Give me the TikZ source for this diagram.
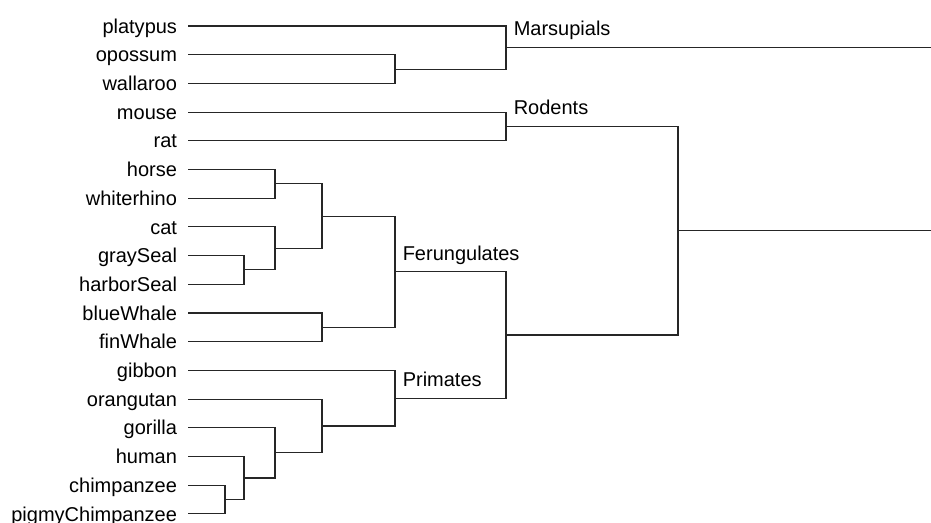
\documentclass[tikz,border=0pt]{standalone}
\usepackage{fontspec}
\setmainfont{Liberation Sans}
\usetikzlibrary{calc}
\begin{document}
\begin{tikzpicture}[x=0.75pt,y=-0.75pt,
  leaf/.style={anchor=east,inner sep=0pt,outer xsep=8.25pt,text height=10.75pt,text depth=0pt,font=\fontsize{15}{18}\selectfont},
  grp/.style={anchor=base west,inner sep=0pt,font=\fontsize{15}{18}\selectfont},
  br/.style={line width=0.8pt,line join=miter,draw=black!85}]
\useasboundingbox (0,0) rectangle (931,523);
% leaves
\def\lx{188}
\node[leaf] (platypus) at (\lx,26) {platypus};
\node[leaf] (opossum) at (\lx,54.7) {opossum};
\node[leaf] (wallaroo) at (\lx,83.4) {wallaroo};
\node[leaf] (mouse) at (\lx,112.1) {mouse};
\node[leaf] (rat) at (\lx,140.8) {rat};
\node[leaf] (horse) at (\lx,169.5) {horse};
\node[leaf] (whiterhino) at (\lx,198.2) {whiterhino};
\node[leaf] (cat) at (\lx,226.9) {cat};
\node[leaf] (graySeal) at (\lx,255.6) {graySeal};
\node[leaf] (harborSeal) at (\lx,284.3) {harborSeal};
\node[leaf] (blueWhale) at (\lx,313) {blueWhale};
\node[leaf] (finWhale) at (\lx,341.7) {finWhale};
\node[leaf] (gibbon) at (\lx,370.4) {gibbon};
\node[leaf] (orangutan) at (\lx,399.1) {orangutan};
\node[leaf] (gorilla) at (\lx,427.8) {gorilla};
\node[leaf] (human) at (\lx,456.5) {human};
\node[leaf] (chimpanzee) at (\lx,485.2) {chimpanzee};
\node[leaf] (pigmy) at (\lx,513.9) {pigmyChimpanzee};
% internal nodes
\coordinate (ow) at (395,69.05);
\coordinate (mars) at (506,47.5);
\coordinate (marsEnd) at (931,47.5);
\coordinate (rod) at (506,126.45);
\coordinate (hw) at (275,183.85);
\coordinate (ss) at (244,269.95);
\coordinate (cs) at (275,248.4);
\coordinate (hwcs) at (322,216.1);
\coordinate (wh) at (322,327.35);
\coordinate (fer) at (395,271.7);
\coordinate (cp) at (225,499.55);
\coordinate (hcp) at (244,478);
\coordinate (ghcp) at (275,452.9);
\coordinate (og) at (322,426);
\coordinate (pri) at (395,398.2);
\coordinate (fp) at (506,335);
\coordinate (root) at (678,230.7);
\coordinate (rootEnd) at (931,230.7);
% branches
\draw[br] (opossum.east) -| (ow) |- (wallaroo.east);
\draw[br] (platypus.east) -| (mars) |- (ow);
\draw[br] (mars) -- (marsEnd);
\draw[br] (mouse.east) -| (rod) |- (rat.east);
\draw[br] (horse.east) -| (hw) |- (whiterhino.east);
\draw[br] (graySeal.east) -| (ss) |- (harborSeal.east);
\draw[br] (cat.east) -| (cs) |- (ss);
\draw[br] (hw) -| (hwcs) |- (cs);
\draw[br] (blueWhale.east) -| (wh) |- (finWhale.east);
\draw[br] (hwcs) -| (fer) |- (wh);
\draw[br] (chimpanzee.east) -| (cp) |- (pigmy.east);
\draw[br] (human.east) -| (hcp) |- (cp);
\draw[br] (gorilla.east) -| (ghcp) |- (hcp);
\draw[br] (orangutan.east) -| (og) |- (ghcp);
\draw[br] (gibbon.east) -| (pri) |- (og);
\draw[br] (fer) -| (fp) |- (pri);
\draw[br] (rod) -| (root) |- (fp);
\draw[br] (root) -- (rootEnd);
% group labels
\node[grp] (lmars) at ($(mars)+(7.5,-11.5)$) {Marsupials};
\node[grp] (lrod) at ($(rod)+(7.5,-11.5)$) {Rodents};
\node[grp] (lfer) at ($(fer)+(7.5,-11.5)$) {Ferungulates};
\node[grp] (lpri) at ($(pri)+(7.5,-11.5)$) {Primates};
\end{tikzpicture}
\end{document}
